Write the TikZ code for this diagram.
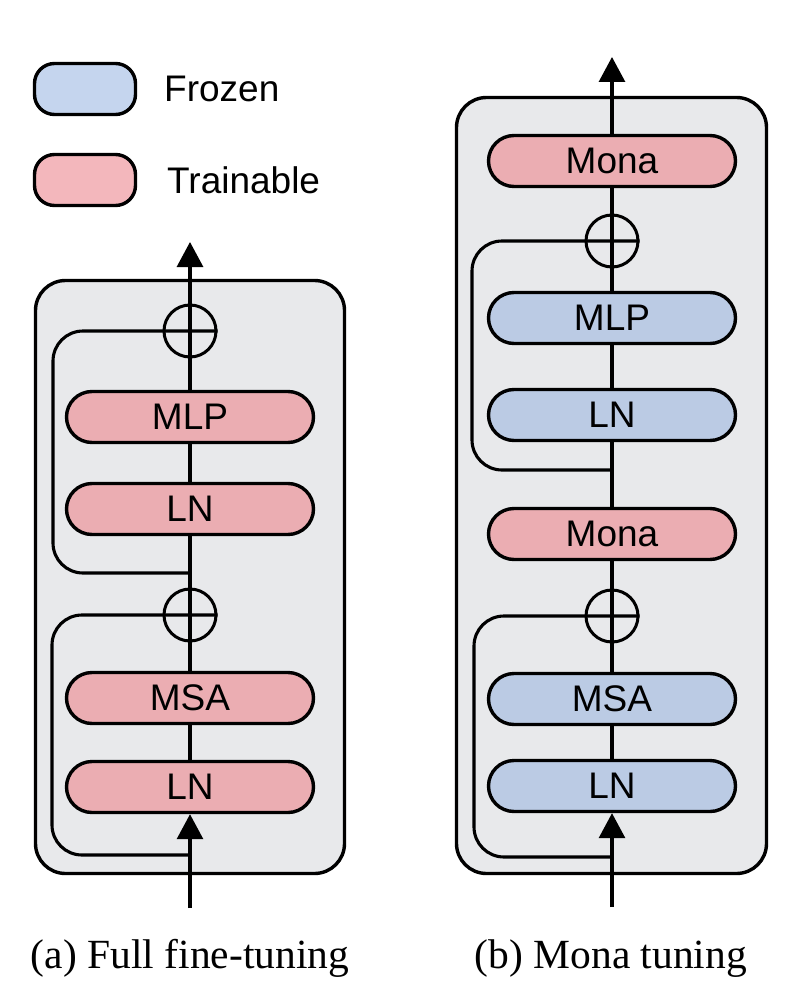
\documentclass[tikz,border=0pt]{standalone}
\usepackage{fontspec}
\setmainfont{Liberation Serif}
\setsansfont{Liberation Sans}
\usetikzlibrary{arrows.meta}
\definecolor{frozenfill}{RGB}{187,203,228}
\definecolor{trainfill}{RGB}{235,173,178}
\definecolor{frozenkeyfill}{RGB}{197,213,238}
\definecolor{trainkeyfill}{RGB}{243,183,188}
\definecolor{panelfill}{RGB}{232,233,235}

\begin{document}
\begin{tikzpicture}[x=1pt,y=-1pt,
        label font/.style={font=\sffamily\fontsize{37}{44}\selectfont},
        block/.style={draw,line width=3.4pt,rounded corners=25.5pt,minimum width=247pt,minimum height=51pt,inner sep=0pt,label font},
        frozen/.style={block,fill=frozenfill},
        trainable/.style={block,fill=trainfill},
        key/.style={draw,line width=3.4pt,rounded corners=20pt,minimum width=101pt,minimum height=51pt},
        adder/.style={draw,circle,line width=3pt,minimum size=52pt,inner sep=0pt},
        panel/.style={draw,line width=3.4pt,fill=panelfill,rounded corners=30pt,inner sep=0pt},
        flow/.style={line width=3.1pt},
        arr/.style={flow,-{Triangle[length=25pt,width=26pt]}},
        caption/.style={anchor=base,font=\rmfamily\fontsize{41.5}{48}\selectfont}]
        \useasboundingbox (0,0) rectangle (801,1006);

        % legend
        \node[key,fill=frozenkeyfill] (frozenkey) at (85,89) {};
        \node[key,fill=trainkeyfill] (trainkey) at (85,180) {};
        \node[label font,anchor=west,inner sep=0pt] (frozenlab) at (164,89) {Frozen};
        \node[label font,anchor=west,inner sep=0pt] (trainlab) at (167,180) {Trainable};

        % (a) full fine-tuning
        \node[panel,minimum width=309pt,minimum height=593pt] (panelA) at (190,577) {};
        \node[adder] (addA1) at (190,331) {};
        \node[trainable] (mlpA) at (190,417) {MLP};
        \node[trainable] (lnA2) at (190,509) {LN};
        \coordinate (brA1) at (190,573);
        \node[adder] (addA2) at (190,615) {};
        \node[trainable] (msaA) at (190,698) {MSA};
        \node[trainable] (lnA1) at (190,787) {LN};
        \coordinate (brA2) at (190,855);
        \coordinate (inA) at (190,908);
        \coordinate (outA) at (190,242);

        \draw[arr] (inA) -- (lnA1.south);
        \draw[flow] (lnA1.north) -- (msaA.south);
        \draw[flow] (msaA.north) -- (lnA2.south);
        \draw[flow] (lnA2.north) -- (mlpA.south);
        \draw[arr] (mlpA.north) -- (outA);
        \draw[flow,rounded corners=30pt] (brA1) -| ([xshift=-137pt]addA1.center) -- (addA1.east);
        \draw[flow,rounded corners=30pt] (brA2) -| ([xshift=-138pt]addA2.center) -- (addA2.east);
        \node[caption] (capA) at (190,968) {(a) Full fine-tuning};

        % (b) mona tuning
        \node[panel,minimum width=310pt,minimum height=776pt] (panelB) at (611.5,485.5) {};
        \node[trainable] (monaB2) at (612,161) {Mona};
        \node[adder] (addB1) at (612,241) {};
        \node[frozen] (mlpB) at (612,318) {MLP};
        \node[frozen] (lnB2) at (612,415) {LN};
        \coordinate (brB1) at (612,470);
        \node[trainable] (monaB1) at (612,534) {Mona};
        \node[adder] (addB2) at (612,616) {};
        \node[frozen] (msaB) at (612,699) {MSA};
        \node[frozen] (lnB1) at (612,786) {LN};
        \coordinate (brB2) at (612,857);
        \coordinate (inB) at (612,907);
        \coordinate (outB) at (612,57);

        \draw[arr] (inB) -- (lnB1.south);
        \draw[flow] (lnB1.north) -- (msaB.south);
        \draw[flow] (msaB.north) -- (monaB1.south);
        \draw[flow] (monaB1.north) -- (lnB2.south);
        \draw[flow] (lnB2.north) -- (mlpB.south);
        \draw[flow] (mlpB.north) -- (monaB2.south);
        \draw[arr] (monaB2.north) -- (outB);
        \draw[flow,rounded corners=30pt] (brB1) -| ([xshift=-140pt]addB1.center) -- (addB1.east);
        \draw[flow,rounded corners=30pt] (brB2) -| ([xshift=-138pt]addB2.center) -- (addB2.east);
        \node[caption] (capB) at (611,968) {(b) Mona tuning};
\end{tikzpicture}
\end{document}
